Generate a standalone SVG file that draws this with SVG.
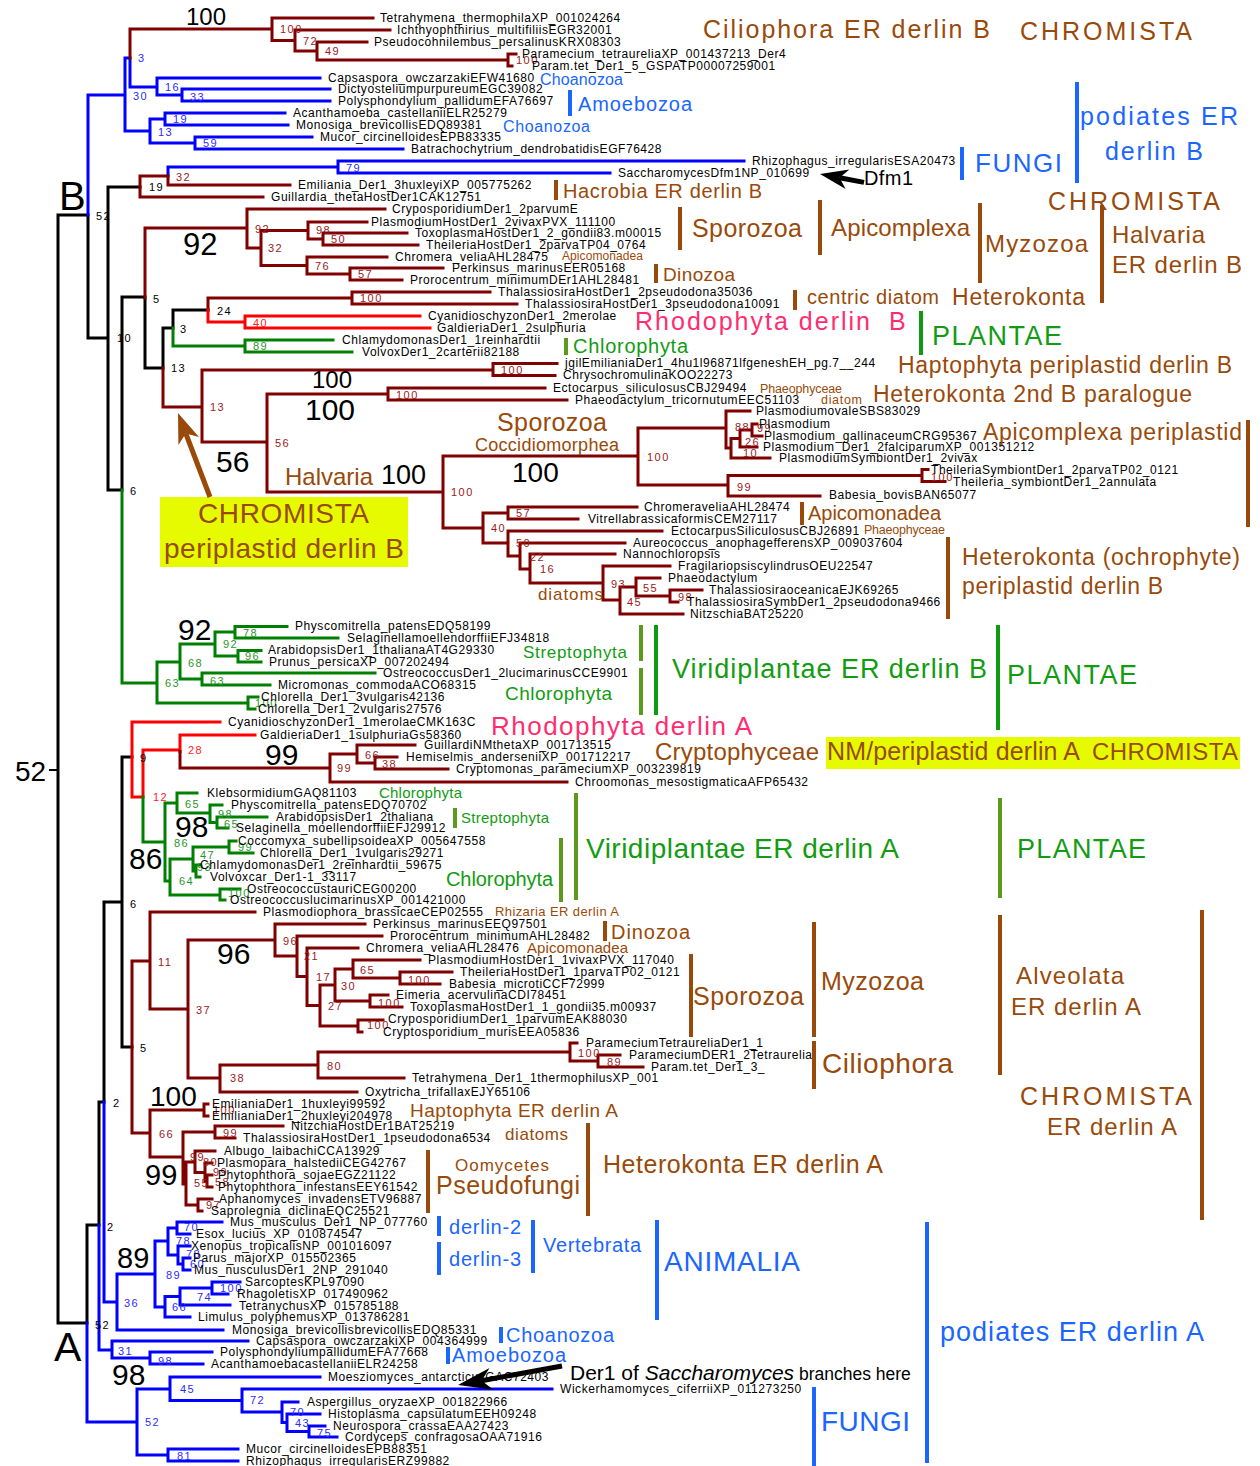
<svg xmlns="http://www.w3.org/2000/svg" width="1260" height="1466" viewBox="0 0 1260 1466">
<style>
text{font-family:"Liberation Sans",Arial,sans-serif}
.lf{font-size:12px;letter-spacing:0.55px;fill:#000}
.bs{font-size:11px;letter-spacing:1.5px}
.bm{fill:#9a1a1a}.bb{fill:#2b2bff}.bg{fill:#2a962a}.br{fill:#ff2020}.bk{fill:#000}
.big{fill:#000}
.cb{fill:#994a0a}.cbl{fill:#1a66ff}.cg{fill:#129c12}.cp{fill:#ff2d6f}
.e{fill:none;stroke-width:3;stroke-linecap:square}
.m{stroke:#800000}.b{stroke:#0000ff}.g{stroke:#008000}.r{stroke:#ff0000}.k{stroke:#000}
.xb{fill:#994a0a}.xbl{fill:#1a66ff}.xg{fill:#109a10}.xo{fill:#5b9a1c}
</style>
<rect width="1260" height="1466" fill="#fff"/>
<g id="highlight-boxes">
<rect x="160" y="497" width="248" height="70" fill="#e6fb00"/>
<rect x="826" y="737" width="414" height="32" fill="#e6fb00"/>
</g>
<g id="connectors" class="e">
<path class="k" d="M58,215V1323M58,215H88M58,1323H87M88,215V338M88,338H108M108,187V490M108,187H140M108,490H122M122,297V490M122,297H145M145,298V368M145,368H163M163,328V368M163,328H173M173,310V328M173,310H208M122,757V1047M122,757H132M122,1047H132M104,902V1102M104,902H122M99,1102V1225M99,1102H104M87,1225V1323M87,1225H99"/>
<path class="b" d="M88,95V215M88,95H125M125,58V131M125,131H150M125,58H130M130,58V87M130,87H157M157,78V95M157,78H320M157,95H182M182,89V101M182,89H330M182,101H330M150,119V143M150,119H165M150,143H195M165,113V125M165,113H285M165,125H288M195,137V149M195,137H312M195,149H403M168,167V176M168,167H338M338,161V173M338,161H744M338,173H610"/>
<path class="m" d="M130,29V58M130,29H272M272,18V40.5M272,18H373M272,40.5H295M295,30V51M295,30H390M295,51H317M317,42V60M317,42H367M317,60H508M508,54V66M508,54H516M508,66H512M140,176V197M140,176H168M140,197H263M168,176V185M168,185H290M145,228V298M145,228H247M247,209V248M247,209H385M247,248H261M261,230.5V265.5M261,230.5H308M261,265.5H307M308,222V239M308,222H367M308,239H323M323,233V245M323,233H407M323,245H418M307,257V274M307,257H387M307,274H350M350,268V280M350,268H443M350,280H402M208,298V310M208,298H352M352,292V304M352,292H490M352,304H517M163,368V407M163,407H202M202,370V442M202,370H493M202,442H267M493,363.5V375.5M493,363.5H557M493,375.5H555M267,394V492M267,394H388M267,492H443M388,388V400M388,388H545M388,400H567M443,456V528M443,456H638M443,528H483M638,428V485M638,428H726M638,485H728M726,411V448M726,411H750M726,448H731M731,438.5V458M731,438.5H740M731,458H770M740,430V447M740,430H752M740,447H757M752,424V436M752,424H757M752,436H762M728,475.5V496M728,475.5H922M728,496H820M922,469.5V481.5M922,469.5H928M922,481.5H945M483,513V543M483,513H508M483,543H508M508,507V519M508,507H637M508,519H578M508,531V556M508,531H662M508,556H520M520,543V569M520,543H625M520,569H530M530,554V583M530,554H615M530,583H603M603,566V600M603,566H670M603,600H620M620,587V614M620,587H636M620,614H683M636,578V596M636,578H660M636,596H670M670,590V602M670,590H702M670,602H678"/>
<path class="g" d="M122,490V683M122,683H157M173,328V346M173,346H245M245,340V352M245,340H333M245,352H352M157,662V703M157,662H180M157,703H248M180,644V679M180,644H215M180,679H202M215,632V656M215,632H235M215,656H238M235,626.5V638M235,626.5H287M235,638H338M238,650.5V662M238,650.5H261M238,662H261M202,673V685M202,673H375M202,685H270M248,697V709M248,697H258M248,709H255"/>
<path class="r" d="M208,310V322M208,322H245M245,316V328M245,316H420M245,328H430M132,722V797M132,722H220M132,797H143M143,750V797M143,750H180M180,735V751.5M180,735H255"/>
<path class="m" d="M180,751.5V768M180,768H330M330,754V782M330,754H357M330,782H567M357,745V763M357,745H415M357,763H375M375,757V769M375,757H397M375,769H448M132,961V1133M132,961H150M132,1133H150M150,912V1009M150,912H255M150,1009H188M188,940V1078M188,940H275M188,1078H220M275,924V956M275,924H365M275,956H297M297,936V976.5M297,936H382M297,976.5H307M307,948V1005.5M307,948H358M307,1005.5H320M320,985V1026M320,985H335M320,1026H358M335,969V1001M335,969H353M335,1001H370M353,960V978M353,960H420M353,978H400M400,972V984M400,972H452M400,984H440M370,995V1007M370,995H388M370,1007H402M358,1020V1032M358,1020H383M358,1032H362M220,1065V1092M220,1065H318M220,1092H357M318,1052V1078M318,1052H570M318,1078H404M570,1043V1061M570,1043H577M570,1061H598M598,1055V1067M598,1055H620M598,1067H643M150,1110V1157M150,1110H204M150,1157H183M204,1104V1116M204,1104H208M204,1116H208M183,1132V1184M183,1132H215M183,1184H186M215,1126V1138M215,1126H283M215,1138H235M186,1162V1205M186,1162H195M186,1205H198M195,1151V1172.5M195,1151H215M195,1172.5H205M205,1163V1181M205,1163H212M205,1181H207M207,1175V1187M207,1175H212M207,1187H212M198,1199V1211M198,1199H212M198,1211H202"/>
<path class="g" d="M143,797V842M143,842H165M165,803V881M165,803H177M165,881H170M177,793V813M177,793H197M177,813H210M210,805V822.5M210,805H222M210,822.5H217M217,817V828M217,817H267M217,828H228M170,859V895M170,859H193M170,895H220M193,847V871M193,847H229M193,871H196M229,841V853M229,841H236M229,853H253M196,865V877M196,865H200M196,877H200M220,889V900M220,889H240M220,900H225"/>
<path class="b" d="M104,1102V1302M104,1302H117M99,1225V1350M99,1350H112M87,1323V1422M87,1422H137M117,1274V1330M117,1274H155M117,1330H223M155,1241V1307M155,1241H168M155,1307H165M168,1228V1255M168,1228H177M168,1255H178M177,1222V1234M177,1222H222M177,1234H190M178,1246V1264M178,1246H190M178,1264H183M183,1258V1270M183,1258H190M183,1270H190M165,1296.5V1317M165,1296.5H180M165,1317H190M180,1288V1305M180,1288H212M180,1305H230M212,1282V1294M212,1282H240M212,1294H228M112,1341V1358M112,1341H248M112,1358H150M150,1352V1364M150,1352H212M150,1364H203M137,1389V1455M137,1389H170M137,1455H168M170,1377V1400.5M170,1377H320M170,1400.5H242M242,1389V1412M242,1389H552M242,1412H282M282,1402V1422.5M282,1402H298M282,1422.5H287M287,1414V1431.5M287,1414H320M287,1431.5H309M309,1426V1437M309,1426H325M309,1437H337M168,1449V1461M168,1449H238M168,1461H238"/>
<path d="M50,770H58" stroke="#000" stroke-width="2"/>
</g>
<g id="support" class="bs">
<text class="bm" x="280" y="33">100</text><text class="bm" x="303" y="45">72</text><text class="bm" x="325" y="55">49</text><text class="bm" x="516" y="64">100</text>
<text class="bm" x="176" y="181">32</text><text class="bm" x="255" y="233">92</text><text class="bm" x="268" y="252">32</text><text class="bm" x="316" y="234">98</text><text class="bm" x="331" y="243">50</text><text class="bm" x="315" y="270">76</text><text class="bm" x="358" y="278">57</text>
<text class="bm" x="360" y="302">100</text><text class="bm" x="210" y="411">13</text><text class="bm" x="501" y="374">100</text><text class="bm" x="275" y="447">56</text><text class="bm" x="396" y="399">100</text>
<text class="bm" x="451" y="496">100</text><text class="bm" x="647" y="461">100</text><text class="bm" x="735" y="431">88</text><text class="bm" x="757" y="432">99</text><text class="bm" x="745" y="446">26</text><text class="bm" x="743" y="457">10</text><text class="bm" x="737" y="491">99</text><text class="bm" x="931" y="481">100</text>
<text class="bm" x="491" y="532">40</text><text class="bm" x="516" y="517">57</text><text class="bm" x="516" y="547">50</text><text class="bm" x="530" y="561">22</text><text class="bm" x="540" y="573">16</text><text class="bm" x="611" y="588">93</text><text class="bm" x="627" y="606">45</text><text class="bm" x="643" y="592">55</text><text class="bm" x="678" y="601">98</text>
<text class="bm" x="337" y="772">99</text><text class="bm" x="365" y="759">66</text><text class="bm" x="382" y="768">38</text>
<text class="bm" x="158" y="966">11</text><text class="bm" x="196" y="1014">37</text><text class="bm" x="283" y="945">96</text><text class="bm" x="304" y="960">21</text><text class="bm" x="316" y="981">17</text><text class="bm" x="328" y="1010">27</text><text class="bm" x="341" y="990">30</text><text class="bm" x="360" y="974">65</text><text class="bm" x="408" y="984">100</text><text class="bm" x="378" y="1007">100</text><text class="bm" x="367" y="1029">100</text>
<text class="bm" x="230" y="1082">38</text><text class="bm" x="327" y="1070">80</text><text class="bm" x="578" y="1057">100</text><text class="bm" x="607" y="1066">89</text>
<text class="bm" x="159" y="1138">66</text><text class="bm" x="213" y="1114">100</text><text class="bm" x="190" y="1161">99</text><text class="bm" x="223" y="1137">99</text><text class="bm" x="194" y="1187">55</text><text class="bm" x="203" y="1166">80</text><text class="bm" x="213" y="1176">99</text><text class="bm" x="215" y="1186">58</text><text class="bm" x="206" y="1209">97</text>
<text class="bk" x="96" y="220">52</text><text class="bk" x="117" y="342">10</text><text class="bk" x="149" y="191">19</text><text class="bk" x="153" y="303">5</text><text class="bk" x="171" y="372">13</text><text class="bk" x="180" y="333">3</text><text class="bk" x="217" y="315">24</text><text class="bk" x="130" y="495">6</text><text class="bk" x="140" y="762">9</text><text class="bk" x="130" y="908">6</text><text class="bk" x="140" y="1052">5</text><text class="bk" x="113" y="1107">2</text><text class="bk" x="107" y="1231">2</text><text class="bk" x="95" y="1329">52</text>
<text class="bb" x="138" y="62">3</text><text class="bb" x="133" y="100">30</text><text class="bb" x="165" y="91">16</text><text class="bb" x="190" y="101">33</text><text class="bb" x="158" y="136">13</text><text class="bb" x="173" y="123">19</text><text class="bb" x="203" y="147">59</text><text class="bb" x="346" y="172">79</text>
<text class="bb" x="124" y="1307">36</text><text class="bb" x="166" y="1279">89</text><text class="bb" x="176" y="1245">78</text><text class="bb" x="184" y="1231">70</text><text class="bb" x="186" y="1258">78</text><text class="bb" x="190" y="1268">60</text><text class="bb" x="172" y="1311">66</text><text class="bb" x="197" y="1301">74</text><text class="bb" x="220" y="1292">100</text><text class="bb" x="118" y="1355">31</text><text class="bb" x="158" y="1365">98</text><text class="bb" x="145" y="1426">52</text><text class="bb" x="180" y="1393">45</text><text class="bb" x="250" y="1404">72</text><text class="bb" x="290" y="1416">70</text><text class="bb" x="295" y="1427">43</text><text class="bb" x="317" y="1437">75</text><text class="bb" x="177" y="1460">81</text>
<text class="bg" x="253" y="350">89</text><text class="bg" x="165" y="687">63</text><text class="bg" x="188" y="667">68</text><text class="bg" x="223" y="648">92</text><text class="bg" x="243" y="637">78</text><text class="bg" x="245" y="660">96</text><text class="bg" x="210" y="685">63</text><text class="bg" x="255" y="707">100</text>
<text class="bg" x="174" y="847">86</text><text class="bg" x="185" y="808">65</text><text class="bg" x="218" y="818">98</text><text class="bg" x="224" y="828">65</text><text class="bg" x="179" y="885">64</text><text class="bg" x="200" y="859">47</text><text class="bg" x="238" y="851">99</text><text class="bg" x="197" y="871">93</text><text class="bg" x="228" y="897">100</text>
<text class="br" x="253" y="327">40</text><text class="br" x="188" y="754">28</text><text class="br" x="153" y="801">12</text>
</g>
<g id="big-support" class="big">
<text x="186" y="25" font-size="24">100</text><text x="183" y="255" font-size="31">92</text><text x="312" y="388" font-size="24">100</text><text x="305" y="420" font-size="30">100</text><text x="216" y="472" font-size="30">56</text><text x="381" y="484" font-size="27">100</text><text x="512" y="482" font-size="28">100</text><text x="178" y="640" font-size="30">92</text><text x="265" y="765" font-size="30">99</text><text x="175" y="837" font-size="30">98</text><text x="129" y="869" font-size="30">86</text><text x="217" y="964" font-size="30">96</text><text x="150" y="1106" font-size="28">100</text><text x="145" y="1185" font-size="29">99</text><text x="117" y="1268" font-size="29">89</text><text x="112" y="1385" font-size="30">98</text><text x="15" y="781" font-size="28">52</text>
<text x="59" y="210" font-size="40">B</text><text x="54" y="1361" font-size="41">A</text>
</g>
<g id="leaves" class="lf">
<g id="L1"><text x="380" y="22">Tetrahymena_thermophilaXP_001024264</text></g>
<g id="L2"><text x="397" y="34">Ichthyophthirius_multifiliisEGR32001</text></g>
<g id="L3"><text x="374" y="46">Pseudocohnilembus_persalinusKRX08303</text></g>
<g id="L4"><text x="522" y="58">Paramecium_tetraureliaXP_001437213_Der4</text></g>
<g id="L5"><text x="532" y="70">Param.tet_Der1_5_GSPATP00007259001</text></g>
<g id="L6"><text x="328" y="82">Capsaspora_owczarzakiEFW41680</text></g>
<g id="L7"><text x="338" y="93">DictyosteliumpurpureumEGC39082</text></g>
<g id="L8"><text x="338" y="105">Polysphondylium_pallidumEFA76697</text></g>
<g id="L9"><text x="293" y="117">Acanthamoeba_castellaniiELR25279</text></g>
<g id="L10"><text x="296" y="129">Monosiga_brevicollisEDQ89381</text></g>
<g id="L11"><text x="320" y="141">Mucor_circinelloidesEPB83335</text></g>
<g id="L12"><text x="411" y="153">Batrachochytrium_dendrobatidisEGF76428</text></g>
<g id="L13"><text x="752" y="165">Rhizophagus_irregularisESA20473</text></g>
<g id="L14"><text x="618" y="177">SaccharomycesDfm1NP_010699</text></g>
<g id="L15"><text x="298" y="189">Emiliania_Der1_3huxleyiXP_005775262</text></g>
<g id="L16"><text x="271" y="201">Guillardia_thetaHostDer1CAK12751</text></g>
<g id="L17"><text x="392" y="213">CryposporidiumDer1_2parvumE</text></g>
<g id="L18"><text x="371" y="226">PlasmodiumHostDer1_2vivaxPVX_111100</text></g>
<g id="L19"><text x="415" y="237">ToxoplasmaHostDer1_2_gondii83.m00015</text></g>
<g id="L20"><text x="426" y="249">TheileriaHostDer1_2parvaTP04_0764</text></g>
<g id="L21"><text x="395" y="261">Chromera_veliaAHL28475</text></g>
<g id="L22"><text x="452" y="272">Perkinsus_marinusEER05168</text></g>
<g id="L23"><text x="410" y="284">Prorocentrum_minimumDEr1AHL28481</text></g>
<g id="L24"><text x="498" y="296">ThalassiosiraHostDer1_2pseudodona35036</text></g>
<g id="L25"><text x="525" y="308">ThalassiosiraHostDer1_3pseudodona10091</text></g>
<g id="L26"><text x="428" y="320">CyanidioschyzonDer1_2merolae</text></g>
<g id="L27"><text x="437" y="332">GaldieriaDer1_2sulphuria</text></g>
<g id="L28"><text x="342" y="344">ChlamydomonasDer1_1reinhardtii</text></g>
<g id="L29"><text x="362" y="356">VolvoxDer1_2carterii82188</text></g>
<g id="L30"><text x="565" y="367">jgilEmilianiaDer1_4hu1l96871lfgeneshEH_pg.7__244</text></g>
<g id="L31"><text x="563" y="379">ChrysochromulinaKOO22273</text></g>
<g id="L32"><text x="553" y="392">Ectocarpus_siliculosusCBJ29494</text></g>
<g id="L33"><text x="575" y="404">Phaeodactylum_tricornutumEEC51103</text></g>
<g id="L34"><text x="756" y="415">PlasmodiumovaleSBS83029</text></g>
<g id="L35"><text x="759" y="428">Plasmodium</text></g>
<g id="L36"><text x="764" y="440">Plasmodium_gallinaceumCRG95367</text></g>
<g id="L37"><text x="763" y="451">Plasmodium_Der1_2falciparumXP_001351212</text></g>
<g id="L38"><text x="779" y="462">PlasmodiumSymbiontDer1_2vivax</text></g>
<g id="L39"><text x="931" y="474">TheileriaSymbiontDer1_2parvaTP02_0121</text></g>
<g id="L40"><text x="953" y="486">Theileria_symbiontDer1_2annulata</text></g>
<g id="L41"><text x="829" y="499">Babesia_bovisBAN65077</text></g>
<g id="L42"><text x="644" y="511">ChromeraveliaAHL28474</text></g>
<g id="L43"><text x="588" y="523">VitrellabrassicaformisCEM27117</text></g>
<g id="L44"><text x="671" y="535">EctocarpusSiliculosusCBJ26891</text></g>
<g id="L45"><text x="633" y="547">Aureococcus_anophagefferensXP_009037604</text></g>
<g id="L46"><text x="623" y="558">Nannochloropsis</text></g>
<g id="L47"><text x="678" y="570">FragilariopsiscylindrusOEU22547</text></g>
<g id="L48"><text x="668" y="582">Phaeodactylum</text></g>
<g id="L49"><text x="709" y="594">ThalassiosiraoceanicaEJK69265</text></g>
<g id="L50"><text x="687" y="606">ThalassiosiraSymbDer1_2pseudodona9466</text></g>
<g id="L51"><text x="690" y="618">NitzschiaBAT25220</text></g>
<g id="L52"><text x="295" y="630">Physcomitrella_patensEDQ58199</text></g>
<g id="L53"><text x="347" y="642">SelaginellamoellendorffiiEFJ34818</text></g>
<g id="L54"><text x="268" y="654">ArabidopsisDer1_1thalianaAT4G29330</text></g>
<g id="L55"><text x="269" y="666">Prunus_persicaXP_007202494</text></g>
<g id="L56"><text x="383" y="677">OstreococcusDer1_2lucimarinusCCE9901</text></g>
<g id="L57"><text x="278" y="689">Micromonas_commodaACO68315</text></g>
<g id="L58"><text x="261" y="701">Chlorella_Der1_3vulgaris42136</text></g>
<g id="L59"><text x="258" y="713">Chlorella_Der1_2vulgaris27576</text></g>
<g id="L60"><text x="228" y="726">CyanidioschyzonDer1_1merolaeCMK163C</text></g>
<g id="L61"><text x="260" y="739">GaldieriaDer1_1sulphuriaGs58360</text></g>
<g id="L62"><text x="424" y="749">GuillardiNMthetaXP_001713515</text></g>
<g id="L63"><text x="406" y="761">Hemiselmis_anderseniiXP_001712217</text></g>
<g id="L64"><text x="456" y="773">Cryptomonas_parameciumXP_003239819</text></g>
<g id="L65"><text x="575" y="786">Chroomonas_mesostigmaticaAFP65432</text></g>
<g id="L66"><text x="207" y="797">KlebsormidiumGAQ81103</text></g>
<g id="L67"><text x="231" y="809">Physcomitrella_patensEDQ70702</text></g>
<g id="L68"><text x="276" y="821">ArabidopsisDer1_2thaliana</text></g>
<g id="L69"><text x="236" y="832">Selaginella_moellendorffiiEFJ29912</text></g>
<g id="L70"><text x="238" y="845">Coccomyxa_subellipsoideaXP_005647558</text></g>
<g id="L71"><text x="260" y="857">Chlorella_Der1_1vulgaris29271</text></g>
<g id="L72"><text x="200" y="869">ChlamydomonasDer1_2reinhardtii_59675</text></g>
<g id="L73"><text x="210" y="881">Volvoxcar_Der1-1_33117</text></g>
<g id="L74"><text x="247" y="893">OstreococcustauriCEG00200</text></g>
<g id="L75"><text x="230" y="904">OstreococcuslucimarinusXP_001421000</text></g>
<g id="L76"><text x="263" y="916">Plasmodiophora_brassicaeCEP02555</text></g>
<g id="L77"><text x="373" y="928">Perkinsus_marinusEEQ97501</text></g>
<g id="L78"><text x="390" y="940">Prorocentrum_minimumAHL28482</text></g>
<g id="L79"><text x="366" y="952">Chromera_veliaAHL28476</text></g>
<g id="L80"><text x="428" y="964">PlasmodiumHostDer1_1vivaxPVX_117040</text></g>
<g id="L81"><text x="460" y="976">TheileriaHostDer1_1parvaTP02_0121</text></g>
<g id="L82"><text x="449" y="988">Babesia_microtiCCF72999</text></g>
<g id="L83"><text x="396" y="999">Eimeria_acervulinaCDI78451</text></g>
<g id="L84"><text x="410" y="1011">ToxoplasmaHostDer1_1_gondii35.m00937</text></g>
<g id="L85"><text x="388" y="1023">CryposporidiumDer1_1parvumEAK88030</text></g>
<g id="L86"><text x="383" y="1036">Cryptosporidium_murisEEA05836</text></g>
<g id="L87"><text x="586" y="1047">ParameciumTetraureliaDer1_1</text></g>
<g id="L88"><text x="629" y="1059">ParameciumDER1_2Tetraurelia</text></g>
<g id="L89"><text x="651" y="1071">Param.tet_Der1_3_</text></g>
<g id="L90"><text x="412" y="1082">Tetrahymena_Der1_1thermophilusXP_001</text></g>
<g id="L91"><text x="365" y="1096">Oxytricha_trifallaxEJY65106</text></g>
<g id="L92"><text x="212" y="1108">EmilianiaDer1_1huxleyi99592</text></g>
<g id="L93"><text x="212" y="1120">EmilianiaDer1_2huxleyi204978</text></g>
<g id="L94"><text x="291" y="1130">NitzchiaHostDEr1BAT25219</text></g>
<g id="L95"><text x="243" y="1142">ThalassiosiraHostDer1_1pseudodona6534</text></g>
<g id="L96"><text x="224" y="1155">Albugo_laibachiCCA13929</text></g>
<g id="L97"><text x="217" y="1167">Plasmopara_halstediiCEG42767</text></g>
<g id="L98"><text x="218" y="1179">Phytophthora_sojaeEGZ21122</text></g>
<g id="L99"><text x="218" y="1191">Phytophthora_infestansEEY61542</text></g>
<g id="L100"><text x="219" y="1203">Aphanomyces_invadensETV96887</text></g>
<g id="L101"><text x="211" y="1215">Saprolegnia_diclinaEQC25521</text></g>
<g id="L102"><text x="230" y="1226">Mus_musculus_Der1_NP_077760</text></g>
<g id="L103"><text x="196" y="1238">Esox_lucius_XP_010874547</text></g>
<g id="L104"><text x="191" y="1250">Xenopus_tropicalisNP_001016097</text></g>
<g id="L105"><text x="193" y="1262">Parus_majorXP_015502365</text></g>
<g id="L106"><text x="194" y="1274">Mus_nusculusDer1_2NP_291040</text></g>
<g id="L107"><text x="245" y="1286">SarcoptesKPL97090</text></g>
<g id="L108"><text x="237" y="1298">RhagoletisXP_017490962</text></g>
<g id="L109"><text x="239" y="1310">TetranychusXP_015785188</text></g>
<g id="L110"><text x="198" y="1321">Limulus_polyphemusXP_013786281</text></g>
<g id="L111"><text x="232" y="1334">Monosiga_brevicollisbrevicollisEDQ85331</text></g>
<g id="L112"><text x="256" y="1345">Capsaspora_owczarzakiXP_004364999</text></g>
<g id="L113"><text x="220" y="1356">PolysphondyliumpallidumEFA77668</text></g>
<g id="L114"><text x="211" y="1368">AcanthamoebacastellaniiELR24258</text></g>
<g id="L115"><text x="328" y="1381">Moesziomyces_antarcticusGAC72403</text></g>
<g id="L116"><text x="560" y="1393">Wickerhamomyces_ciferriiXP_011273250</text></g>
<g id="L117"><text x="307" y="1406">Aspergillus_oryzaeXP_001822966</text></g>
<g id="L118"><text x="328" y="1418">Histoplasma_capsulatumEEH09248</text></g>
<g id="L119"><text x="333" y="1430">Neurospora_crassaEAA27423</text></g>
<g id="L120"><text x="345" y="1441">Cordyceps_confragosaOAA71916</text></g>
<g id="L121"><text x="246" y="1453">Mucor_circinelloidesEPB88351</text></g>
<g id="L122"><text x="246" y="1465">Rhizophagus_irregularisERZ99882</text></g>
</g>
<g id="bars">
<rect class="xbl" x="568" y="90" width="4" height="26"/>
<rect class="xbl" x="1075" y="82" width="4" height="101"/>
<rect class="xbl" x="960" y="147" width="4" height="33"/>
<rect class="xb" x="554" y="180" width="4" height="20"/>
<rect class="xb" x="678" y="207" width="4" height="43"/>
<rect class="xb" x="818" y="200" width="4" height="55"/>
<rect class="xb" x="978" y="203" width="4" height="80"/>
<rect class="xb" x="1100" y="205" width="4" height="98"/>
<rect class="xb" x="654" y="264" width="4" height="19"/>
<rect class="xb" x="793" y="290" width="4" height="20"/>
<rect class="xg" x="919" y="311" width="4" height="44"/>
<rect class="xo" x="564" y="338" width="4" height="17"/>
<rect class="xb" x="1246" y="420" width="4" height="107"/>
<rect class="xb" x="800" y="502" width="4" height="23"/>
<rect class="xb" x="946" y="537" width="4" height="82"/>
<rect class="xo" x="639" y="625" width="4" height="36"/>
<rect class="xo" x="639" y="668" width="4" height="47"/>
<rect class="xg" x="654" y="625" width="4" height="90"/>
<rect class="xg" x="996" y="625" width="4" height="105"/>
<rect class="xo" x="453" y="808" width="4" height="20"/>
<rect class="xo" x="559" y="838" width="4" height="64"/>
<rect class="xo" x="574" y="793" width="4" height="107"/>
<rect class="xo" x="998" y="798" width="4" height="100"/>
<rect class="xb" x="603" y="921" width="4" height="20"/>
<rect class="xb" x="689" y="954" width="4" height="83"/>
<rect class="xb" x="812" y="922" width="4" height="115"/>
<rect class="xb" x="812" y="1041" width="4" height="48"/>
<rect class="xb" x="998" y="915" width="4" height="160"/>
<rect class="xb" x="1200" y="910" width="4" height="310"/>
<rect class="xb" x="426" y="1150" width="4" height="63"/>
<rect class="xb" x="586" y="1123" width="4" height="93"/>
<rect class="xbl" x="437" y="1216" width="4" height="20"/>
<rect class="xbl" x="437" y="1242" width="4" height="33"/>
<rect class="xbl" x="531" y="1220" width="4" height="53"/>
<rect class="xbl" x="655" y="1220" width="4" height="100"/>
<rect class="xbl" x="925" y="1222" width="4" height="241"/>
<rect class="xbl" x="499" y="1327" width="4" height="16"/>
<rect class="xbl" x="446" y="1347" width="4" height="17"/>
<rect class="xbl" x="812" y="1387" width="4" height="79"/>
</g>
<g id="group-labels">
<g id="g1"><text class="cb" x="703" y="38" font-size="25" textLength="287">Ciliophora ER derlin B</text></g>
<g id="g2"><text class="cb" x="1020" y="40" font-size="25" textLength="172">CHROMISTA</text></g>
<g id="g3"><text class="cbl" x="540" y="85" font-size="16" textLength="83">Choanozoa</text></g>
<g id="g4"><text class="cbl" x="578" y="111" font-size="20" textLength="114">Amoebozoa</text></g>
<g id="g5"><text class="cbl" x="503" y="132" font-size="16" textLength="87">Choanozoa</text></g>
<g id="g6"><text class="cbl" x="1080" y="125" font-size="25" textLength="158">podiates ER</text><text class="cbl" x="1105" y="160" font-size="25" textLength="98">derlin B</text></g>
<g id="g7"><text class="cbl" x="975" y="172" font-size="26" textLength="87">FUNGI</text></g>
<g id="g8"><text fill="#000" x="864" y="185" font-size="20" textLength="49">Dfm1</text></g>
<g id="g9"><text class="cb" x="563" y="198" font-size="20" textLength="199">Hacrobia ER derlin B</text></g>
<g id="g10"><text class="cb" x="1048" y="210" font-size="25" textLength="172">CHROMISTA</text></g>
<g id="g11"><text class="cb" x="692" y="237" font-size="25" textLength="110">Sporozoa</text></g>
<g id="g12"><text class="cb" x="831" y="236" font-size="24" textLength="139">Apicomplexa</text></g>
<g id="g13"><text class="cb" x="985" y="252" font-size="24" textLength="103">Myzozoa</text></g>
<g id="g14"><text class="cb" x="1112" y="243" font-size="24" textLength="93">Halvaria</text><text class="cb" x="1112" y="273" font-size="24" textLength="130">ER derlin B</text></g>
<g id="g15"><text class="cb" x="663" y="281" font-size="19" textLength="72">Dinozoa</text></g>
<g id="g16"><text class="cb" x="807" y="304" font-size="20" textLength="132">centric diatom</text></g>
<g id="g17"><text class="cb" x="952" y="305" font-size="23" textLength="133">Heterokonta</text></g>
<g id="g18"><text class="cp" x="635" y="330" font-size="25" textLength="235">Rhodophyta derlin</text><text class="cp" x="889" y="330" font-size="25">B</text></g>
<g id="g19"><text class="cg" x="932" y="345" font-size="27" textLength="130">PLANTAE</text></g>
<g id="g20"><text class="cg" x="573" y="353" font-size="20" textLength="115">Chlorophyta</text></g>
<g id="g21"><text class="cb" x="898" y="373" font-size="23" textLength="334">Haptophyta periplastid derlin B</text></g>
<g id="g22"><text class="cb" x="760" y="393" font-size="12.5" textLength="82">Phaeophyceae</text><text class="cb" x="821" y="404" font-size="12.5" textLength="41">diatom</text></g>
<g id="g23"><text class="cb" x="873" y="402" font-size="23" textLength="319">Heterokonta 2nd B paralogue</text></g>
<g id="g24"><text class="cb" x="497" y="431" font-size="25" textLength="110">Sporozoa</text><text class="cb" x="475" y="451" font-size="18" textLength="144">Coccidiomorphea</text></g>
<g id="g25"><text class="cb" x="983" y="440" font-size="23" textLength="259">Apicomplexa periplastid</text></g>
<g id="g26"><text class="cb" x="285" y="485" font-size="24" textLength="88">Halvaria</text></g>
<g id="g27"><text class="cb" x="198" y="523" font-size="28" textLength="171">CHROMISTA</text><text class="cb" x="164" y="558" font-size="28" textLength="240">periplastid derlin B</text></g>
<g id="g28"><text class="cb" x="808" y="520" font-size="20" textLength="133">Apicomonadea</text></g>
<g id="g29"><text class="cb" x="864" y="534" font-size="12.5" textLength="81">Phaeophyceae</text></g>
<g id="g30"><text class="cb" x="562" y="260" font-size="12" textLength="81">Apicomonadea</text></g>
<g id="g31"><text class="cb" x="962" y="565" font-size="23" textLength="278">Heterokonta (ochrophyte)</text><text class="cb" x="962" y="594" font-size="23" textLength="201">periplastid derlin B</text></g>
<g id="g32"><text class="cb" x="538" y="600" font-size="17" textLength="65">diatoms</text></g>
<g id="g33"><text class="cg" x="523" y="658" font-size="17" textLength="104">Streptophyta</text></g>
<g id="g34"><text class="cg" x="505" y="700" font-size="19" textLength="107">Chlorophyta</text></g>
<g id="g35"><text class="cg" x="672" y="678" font-size="27" textLength="315">Viridiplantae ER derlin B</text></g>
<g id="g36"><text class="cg" x="1007" y="684" font-size="27" textLength="130">PLANTAE</text></g>
<g id="g37"><text class="cp" x="491" y="735" font-size="26" textLength="261">Rhodophyta derlin A</text></g>
<g id="g38"><text class="cb" x="655" y="760" font-size="24" textLength="164">Cryptophyceae</text></g>
<g id="g39"><text class="cb" x="827" y="760" font-size="25" textLength="253">NM/periplastid derlin A</text><text class="cb" x="1092" y="760" font-size="24" textLength="146">CHROMISTA</text></g>
<g id="g40"><text class="cg" x="379" y="798" font-size="15" textLength="83">Chlorophyta</text></g>
<g id="g41"><text class="cg" x="461" y="823" font-size="15" textLength="88">Streptophyta</text></g>
<g id="g42"><text class="cg" x="586" y="858" font-size="28" textLength="313">Viridiplantae ER derlin A</text></g>
<g id="g43"><text class="cg" x="1017" y="858" font-size="27" textLength="129">PLANTAE</text></g>
<g id="g44"><text class="cg" x="446" y="886" font-size="20" textLength="107">Chlorophyta</text></g>
<g id="g45"><text class="cb" x="495" y="916" font-size="13" textLength="124">Rhizaria ER derlin A</text></g>
<g id="g46"><text class="cb" x="611" y="939" font-size="20" textLength="79">Dinozoa</text></g>
<g id="g47"><text class="cb" x="527" y="953" font-size="15" textLength="101">Apicomonadea</text></g>
<g id="g48"><text class="cb" x="693" y="1005" font-size="25" textLength="111">Sporozoa</text></g>
<g id="g49"><text class="cb" x="821" y="990" font-size="25" textLength="103">Myzozoa</text></g>
<g id="g50"><text class="cb" x="822" y="1073" font-size="28" textLength="131">Ciliophora</text></g>
<g id="g51"><text class="cb" x="1016" y="984" font-size="24" textLength="108">Alveolata</text><text class="cb" x="1011" y="1015" font-size="24" textLength="130">ER derlin A</text></g>
<g id="g52"><text class="cb" x="1020" y="1105" font-size="25" textLength="172">CHROMISTA</text><text class="cb" x="1047" y="1135" font-size="24" textLength="130">ER derlin A</text></g>
<g id="g53"><text class="cb" x="410" y="1117" font-size="19" textLength="208">Haptophyta ER derlin A</text></g>
<g id="g54"><text class="cb" x="505" y="1140" font-size="17" textLength="63">diatoms</text></g>
<g id="g55"><text class="cb" x="455" y="1171" font-size="17" textLength="94">Oomycetes</text><text class="cb" x="436" y="1194" font-size="25" textLength="144">Pseudofungi</text></g>
<g id="g56"><text class="cb" x="603" y="1173" font-size="25" textLength="280">Heterokonta ER derlin A</text></g>
<g id="g57"><text class="cbl" x="449" y="1234" font-size="20" textLength="72">derlin-2</text><text class="cbl" x="449" y="1266" font-size="20" textLength="72">derlin-3</text></g>
<g id="g58"><text class="cbl" x="543" y="1252" font-size="20" textLength="98">Vertebrata</text></g>
<g id="g59"><text class="cbl" x="664" y="1271" font-size="28" textLength="136">ANIMALIA</text></g>
<g id="g60"><text class="cbl" x="940" y="1341" font-size="27" textLength="264">podiates ER derlin A</text></g>
<g id="g61"><text class="cbl" x="506" y="1342" font-size="20" textLength="108">Choanozoa</text></g>
<g id="g62"><text class="cbl" x="452" y="1362" font-size="20" textLength="114">Amoebozoa</text></g>
<g id="g63"><text fill="#000" x="570" y="1380" font-size="21">Der1 of <tspan font-style="italic">Saccharomyces</tspan><tspan font-size="17.5"> branches here</tspan></text></g>
<g id="g64"><text class="cbl" x="821" y="1431" font-size="28" textLength="89">FUNGI</text></g>
</g>
<g id="arrows">
<path d="M839.6,177.7L864,182.4" stroke="#000" stroke-width="5" fill="none"/>
<path d="M820,174L849.4,169.4L839.6,177.7L845.6,189Z" fill="#000"/>
<path d="M481.6,1380.7L562,1366" stroke="#000" stroke-width="5" fill="none"/>
<path d="M458,1385L489.5,1368.1L481.6,1380.7L493.5,1389.7Z" fill="#000"/>
<path d="M185.8,433.5L210,497" stroke="#994a0a" stroke-width="5" fill="none"/>
<path d="M178,413L199,437.1L185.8,433.5L178.4,444.9Z" fill="#994a0a"/>
</g>
</svg>
